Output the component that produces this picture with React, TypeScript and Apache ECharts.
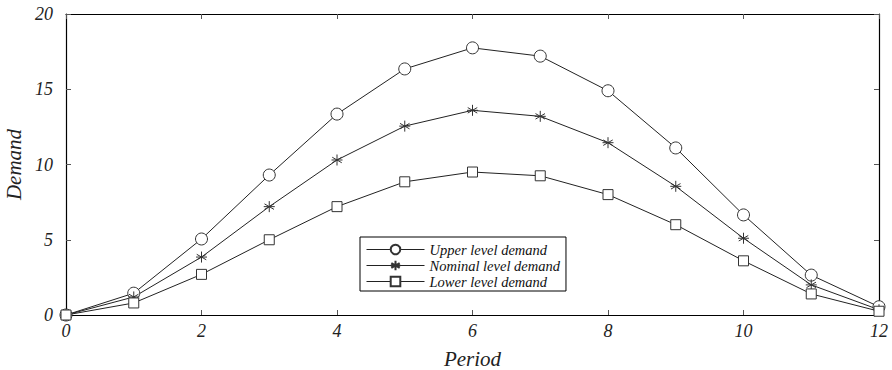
import React, { useEffect, useRef } from "react";
import * as echarts from "echarts";

const periods = [0, 1, 2, 3, 4, 5, 6, 7, 8, 9, 10, 11, 12];
const upperDemand = [0, 1.45, 5.05, 9.3, 13.35, 16.35, 17.75, 17.2, 14.9, 11.1, 6.65, 2.65, 0.55];
const nominalDemand = [0, 1.2, 3.85, 7.2, 10.3, 12.55, 13.6, 13.2, 11.45, 8.55, 5.1, 2.0, 0.35];
const lowerDemand = [0, 0.8, 2.7, 5.0, 7.2, 8.85, 9.5, 9.25, 8.0, 6.0, 3.6, 1.4, 0.25];
const seriesNames = ["Upper level demand", "Nominal level demand", "Lower level demand"];

const FONT = "'Liberation Serif', 'Times New Roman', serif";
const STAR = "path://M0,-10L0,10M-8.66,-5L8.66,5M-8.66,5L8.66,-5M-10,0L10,0";

export default function App() {
  const ref = useRef<HTMLDivElement>(null);
  useEffect(() => {
    if (!ref.current) return;
    const chart = echarts.init(ref.current, undefined, { renderer: "svg" });
    const pair = (arr: number[]) => periods.map((p, i) => [p, arr[i]]);
    const axisCommon = {
      axisLine: { show: true, onZero: false, lineStyle: { color: "#000", width: 1.2 } },
      axisTick: { show: true, inside: true, length: 5, lineStyle: { color: "#555" } },
      splitLine: { show: false },
    };
    const labelStyle = { fontFamily: FONT, fontStyle: "italic", fontSize: 18, color: "#222" };
    const mkSeries = (name: string, data: number[], symbol: string, size: number) => ({
      name,
      type: "line",
      data: pair(data),
      symbol,
      symbolSize: size,
      symbolKeepAspect: true,
      showAllSymbol: true,
      lineStyle: { color: "#222", width: 1 },
      itemStyle: { color: "#fff", borderColor: "#333", borderWidth: 1 },
      emphasis: { disabled: true },
    });
    chart.setOption({
      animation: false,
      backgroundColor: "#fff",
      grid: { left: 66, right: 13, top: 14, bottom: 55, containLabel: false, outerBoundsMode: "none" },
      xAxis: [
        {
          type: "value",
          min: 0,
          max: 12,
          interval: 2,
          ...axisCommon,
          axisLabel: { ...labelStyle, margin: 7 },
          name: "Period",
          nameLocation: "middle",
          nameGap: 33,
          nameTextStyle: { ...labelStyle, fontSize: 21 },
        },
        {
          type: "value",
          position: "top",
          min: 0,
          max: 12,
          interval: 2,
          ...axisCommon,
          axisLabel: { show: false },
        },
      ],
      yAxis: [
        {
          type: "value",
          min: 0,
          max: 20,
          interval: 5,
          ...axisCommon,
          axisLabel: { ...labelStyle, margin: 13 },
          name: "Demand",
          nameLocation: "middle",
          nameGap: 42,
          nameTextStyle: { ...labelStyle, fontSize: 21 },
        },
        {
          type: "value",
          position: "right",
          min: 0,
          max: 20,
          interval: 5,
          ...axisCommon,
          axisLabel: { show: false },
        },
      ],
      legend: {
        orient: "vertical",
        left: 360,
        top: 237,
        backgroundColor: "#fff",
        borderColor: "#000",
        borderWidth: 1,
        borderRadius: 0,
        padding: [5, 6, 2, 6],
        itemGap: 1,
        itemWidth: 58,
        itemHeight: 12,
        lineStyle: { width: 1, color: "#222" },
        textStyle: { fontFamily: FONT, fontStyle: "italic", fontSize: 14.5, color: "#111" },
        data: seriesNames,
      },
      series: [
        mkSeries(seriesNames[0], upperDemand, "circle", 12),
        mkSeries(seriesNames[1], nominalDemand, STAR, 11),
        mkSeries(seriesNames[2], lowerDemand, "rect", 10),
      ],
    });
    return () => chart.dispose();
  }, []);
  return (
    <div
      ref={ref}
      style={{ position: "fixed", left: 0, top: 0, width: 892, height: 370 }}
    />
  );
}
